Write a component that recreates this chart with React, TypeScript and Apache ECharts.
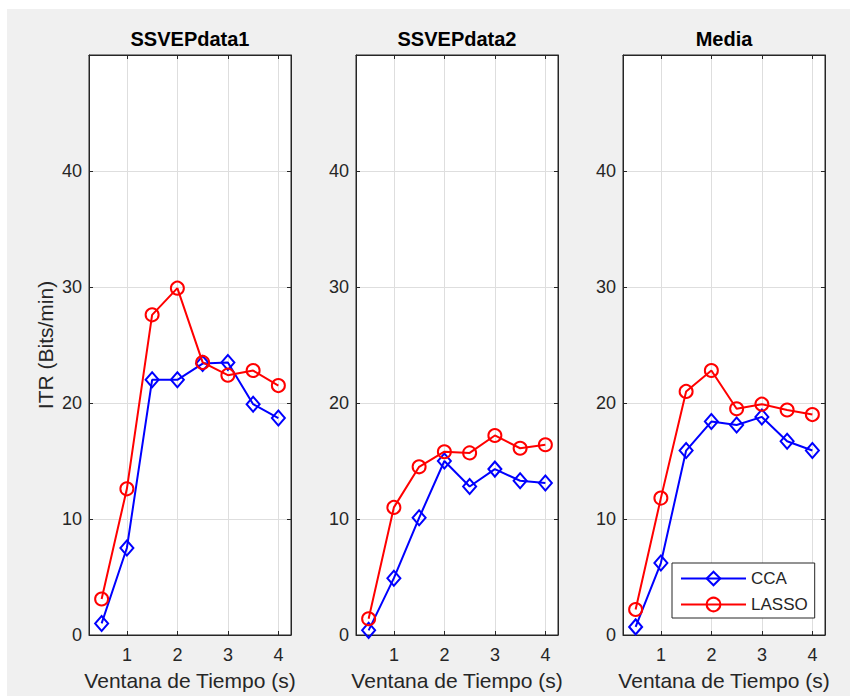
import React, { useEffect, useRef } from "react";
import * as echarts from "echarts";

const xValues = [0.5, 1, 1.5, 2, 2.5, 3, 3.5, 4];
const xTicks = [1, 2, 3, 4];
const titles = ["SSVEPdata1", "SSVEPdata2", "Media"];
const seriesNames = ["CCA", "LASSO"];

const data1CCA = [1.0, 7.5, 22.0, 22.0, 23.4, 23.5, 19.9, 18.7];
const data1LASSO = [3.1, 12.6, 27.6, 29.9, 23.5, 22.4, 22.8, 21.5];
const data2CCA = [0.4, 4.9, 10.1, 15.0, 12.8, 14.3, 13.3, 13.1];
const data2LASSO = [1.4, 11.0, 14.5, 15.8, 15.7, 17.2, 16.1, 16.4];
const mediaCCA = [0.7, 6.2, 15.9, 18.4, 18.1, 18.8, 16.7, 15.9];
const mediaLASSO = [2.2, 11.8, 21.0, 22.8, 19.5, 19.9, 19.4, 19.0];

const panels = [
  [data1CCA, data1LASSO],
  [data2CCA, data2LASSO],
  [mediaCCA, mediaLASSO],
];

const xLabel = "Ventana de Tiempo (s)";
const yLabel = "ITR (Bits/min)";

const FONT = "'Liberation Sans', Arial, Helvetica, sans-serif";
const AXIS = "#262626";
const GRIDC = "#dedede";
const gridLefts = [89, 356, 623];
const gridW = 202;
const gridTop = 55;
const gridH = 581;

export default function App() {
  const ref = useRef<HTMLDivElement>(null);
  useEffect(() => {
    if (!ref.current) return;
    const chart = echarts.init(ref.current, undefined, { renderer: "svg" });

    const grids: any[] = [];
    const xAxes: any[] = [];
    const yAxes: any[] = [];
    const series: any[] = [];
    const title: any[] = [];

    gridLefts.forEach((left, i) => {
      grids.push({
        left, top: gridTop, width: gridW, height: gridH,
        show: true, backgroundColor: "#ffffff", borderColor: AXIS, borderWidth: 1,
        containLabel: false,
      });
      title.push({
        text: titles[i],
        left: left + gridW / 2,
        top: 29,
        textAlign: "center",
        padding: 0,
        textStyle: { fontFamily: FONT, fontSize: 20, fontWeight: "bold", color: "#000" },
      });
      const baseX = {
        gridIndex: i, type: "value", min: 0.25, max: 4.25,
        axisLine: { show: true, onZero: false, lineStyle: { color: AXIS, width: 1 } },
        axisTick: { show: true, inside: true, length: 4, customValues: xTicks, lineStyle: { color: AXIS } },
      };
      xAxes.push({
        ...baseX,
        position: "bottom",
        axisLabel: { customValues: xTicks, fontFamily: FONT, fontSize: 18, color: AXIS, margin: 11 },
        splitLine: { show: true, lineStyle: { color: GRIDC, width: 1 } },
        name: xLabel,
        nameLocation: "middle",
        nameGap: 35,
        nameTextStyle: { fontFamily: FONT, fontSize: 21, color: AXIS },
      });
      xAxes.push({
        ...baseX,
        position: "top",
        axisLabel: { show: false },
        splitLine: { show: false },
      });
      const baseY = {
        gridIndex: i, type: "value", min: 0, max: 50, interval: 10,
        axisLine: { show: true, onZero: false, lineStyle: { color: AXIS, width: 1 } },
        axisTick: { show: true, inside: true, length: 4, lineStyle: { color: AXIS } },
      };
      yAxes.push({
        ...baseY,
        position: "left",
        axisLabel: {
          fontFamily: FONT, fontSize: 18, color: AXIS, margin: 7,
          formatter: (v: number) => (v === 50 ? "" : String(v)),
        },
        splitLine: { show: true, lineStyle: { color: GRIDC, width: 1 } },
        ...(i === 0
          ? {
              name: yLabel,
              nameLocation: "middle",
              nameGap: 33,
              nameRotate: 90,
              nameTextStyle: { fontFamily: FONT, fontSize: 21, color: AXIS },
            }
          : {}),
      });
      yAxes.push({
        ...baseY,
        position: "right",
        axisLabel: { show: false },
        splitLine: { show: false },
      });

      const [cca, lasso] = panels[i];
      series.push({
        name: seriesNames[0], type: "line",
        xAxisIndex: i * 2, yAxisIndex: i * 2,
        data: xValues.map((x, k) => [x, cca[k]]),
        symbol: "diamond", symbolSize: [13, 15], showSymbol: true,
        lineStyle: { color: "#0000ff", width: 2 },
        itemStyle: { color: "transparent", borderColor: "#0000ff", borderWidth: 2 },
        emphasis: { disabled: true },
        z: 2,
      });
      series.push({
        name: seriesNames[1], type: "line",
        xAxisIndex: i * 2, yAxisIndex: i * 2,
        data: xValues.map((x, k) => [x, lasso[k]]),
        symbol: "circle", symbolSize: 13, showSymbol: true,
        lineStyle: { color: "#ff0000", width: 2 },
        itemStyle: { color: "transparent", borderColor: "#ff0000", borderWidth: 2 },
        emphasis: { disabled: true },
        z: 3,
      });
    });

    chart.setOption({
      animation: false,
      backgroundColor: "#ffffff",
      graphic: [
        {
          type: "rect", z: -100, silent: true,
          shape: { x: 7, y: 9, width: 843, height: 687 },
          style: { fill: "#f0f0f0" },
        },
      ],
      title,
      grid: grids,
      xAxis: xAxes,
      yAxis: yAxes,
      legend: {
        data: seriesNames,
        orient: "vertical",
        left: 672,
        top: 563,
        width: 144,
        itemWidth: 65,
        itemHeight: 17,
        itemGap: 9,
        padding: [7, 7, 5, 8],
        backgroundColor: "#ffffff",
        borderColor: AXIS,
        borderWidth: 1,
        borderRadius: 0,
        selectedMode: false,
        textStyle: { fontFamily: FONT, fontSize: 17, color: AXIS, padding: [0, 0, 0, 0] },
      },
      series,
    });
    return () => chart.dispose();
  }, []);
  return (
    <div
      ref={ref}
      style={{ position: "fixed", left: 0, top: 0, width: 850, height: 696 }}
    />
  );
}
